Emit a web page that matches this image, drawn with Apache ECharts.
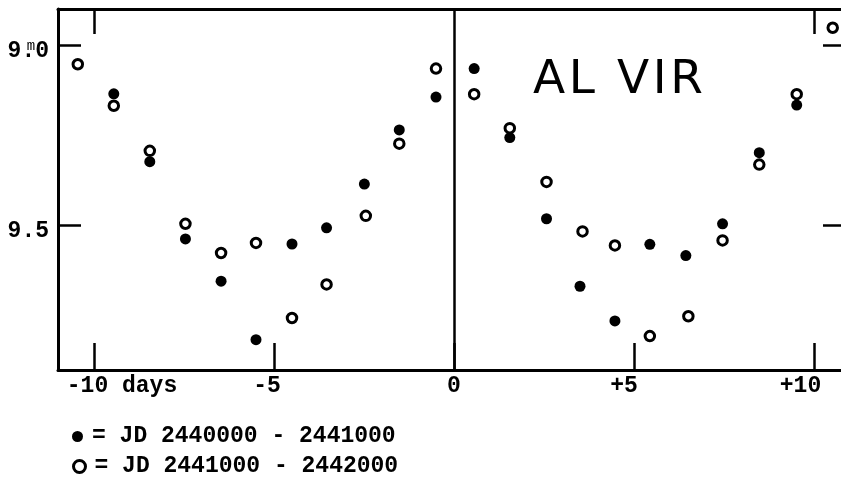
<!DOCTYPE html>
<html>
<head>
<meta charset="utf-8">
<script src="https://cdn.jsdelivr.net/npm/echarts@6/dist/echarts.min.js"></script>
<style>
html,body{margin:0;padding:0;background:#fff;overflow:hidden;}
#c{width:850px;height:482px;}
</style>
</head>
<body>
<div id="c"></div>
<script>
// ---- data ----
const xTicks = [-10, -5, 0, 5, 10];
const xTickLabels = ['-10 days', '-5', '0', '+5', '+10'];
const topTicks = [-10, 10];
const yTicks = [9.0, 9.5];
const yTickLabels = ['9.0', '9.5'];
const magUnit = 'm';
const starName = 'AL VIR';

const filledName = '= JD 2440000 - 2441000';
const filledDays = [-9.45, -8.45, -7.46, -6.47, -5.5, -4.5, -3.54, -2.49, -1.52, -0.5,
                    0.56, 1.55, 2.57, 3.5, 4.47, 5.44, 6.44, 7.46, 8.48, 9.52];
const filledMag  = [9.135, 9.323, 9.537, 9.654, 9.816, 9.551, 9.506, 9.385, 9.235, 9.144,
                    9.065, 9.256, 9.481, 9.668, 9.764, 9.552, 9.583, 9.495, 9.298, 9.166];

const openName = '= JD 2441000 - 2442000';
const openDays = [-10.45, -9.45, -8.45, -7.46, -6.47, -5.5, -4.5, -3.54, -2.45, -1.52, -0.5,
                  0.56, 1.55, 2.57, 3.57, 4.47, 5.44, 6.51, 7.46, 8.48, 9.52, 10.52];
const openMag  = [9.053, 9.168, 9.293, 9.495, 9.576, 9.548, 9.756, 9.663, 9.473, 9.273, 9.065,
                  9.136, 9.23, 9.379, 9.516, 9.555, 9.806, 9.751, 9.541, 9.331, 9.136, 8.952];

// ---- chart ----
const mono = '"Liberation Mono", "DejaVu Sans Mono", monospace';
const ink = '#000';
const chart = echarts.init(document.getElementById('c'), null, {renderer: 'canvas'});

const labelStyleKeys = ['l0', 'l1', 'l2', 'l3', 'l4'];
const baseTxt = {fontFamily: mono, fontSize: 23, fontWeight: 'bold', color: ink};
const legendTxt = {fontFamily: mono, fontSize: 23, fontWeight: 'bold', color: ink, padding: [0, 0, 0, 4]};

const option = {
  backgroundColor: '#fff',
  animation: false,
  grid: {left: 58, top: 9, right: 0, height: 361},
  graphic: [{
    type: 'text', left: 533, top: 57, silent: true,
    style: {
      text: starName.split('').map(ch => '{a|' + ch + '}').join(''),
      rich: {a: {fontFamily: '"DejaVu Sans"', fontSize: 47, color: ink, padding: [0, 1.8, 0, 1.8]}}
    }
  }],
  legend: [{
    orient: 'vertical', left: 67, top: 420, padding: 5,
    itemWidth: 11, itemHeight: 11,
    textStyle: legendTxt,
    data: [{name: filledName, icon: 'circle', itemStyle: {color: ink, borderWidth: 0, opacity: 1}}]
  }, {
    orient: 'vertical', left: 67, top: 450, padding: 5,
    itemWidth: 12, itemHeight: 12,
    textStyle: legendTxt,
    data: [{name: openName, icon: 'circle', itemStyle: {color: '#fff', borderColor: ink, borderWidth: 3, opacity: 1}}]
  }],
  xAxis: [{
    type: 'value', min: -11, max: 11, position: 'bottom',
    axisLine: {show: true, onZero: false, lineStyle: {color: ink, width: 3}},
    axisTick: {show: true, inside: true, length: 27, customValues: xTicks, lineStyle: {color: ink, width: 2.5}},
    splitLine: {show: false},
    axisLabel: {
      show: true, margin: 5, customValues: xTicks,
      formatter: function (v) {
        const i = xTicks.indexOf(v);
        return '{' + labelStyleKeys[i] + '|' + xTickLabels[i] + '}';
      },
      rich: {
        l0: Object.assign({padding: [0, 0, 0, 56]}, baseTxt),
        l1: Object.assign({padding: [0, 14, 0, 0]}, baseTxt),
        l2: Object.assign({}, baseTxt),
        l3: Object.assign({padding: [0, 20, 0, 0]}, baseTxt),
        l4: Object.assign({padding: [0, 27, 0, 0]}, baseTxt)
      }
    }
  }, {
    type: 'value', min: -11, max: 11, position: 'top',
    axisLine: {show: true, onZero: false, lineStyle: {color: ink, width: 3}},
    axisTick: {show: true, inside: true, length: 25, customValues: topTicks, lineStyle: {color: ink, width: 2.5}},
    axisLabel: {show: false},
    splitLine: {show: false}
  }],
  yAxis: [{
    type: 'value', inverse: true, min: 8.9, max: 9.9, position: 'left',
    axisLine: {show: true, onZero: false, lineStyle: {color: ink, width: 3}},
    axisTick: {show: true, inside: true, length: 23, customValues: yTicks, lineStyle: {color: ink, width: 2.5}},
    splitLine: {show: false},
    axisLabel: {
      show: true, margin: 9, customValues: yTicks, padding: [12, 0, 0, 0],
      formatter: function (v) {
        const i = yTicks.indexOf(v);
        const s = yTickLabels[i];
        if (i === 0) {
          return '{n|' + s.slice(0, 2) + '}{m|' + magUnit + '}{n|' + s.slice(2) + '}';
        }
        return '{n|' + s + '}';
      },
      rich: {
        n: Object.assign({}, baseTxt),
        m: {fontFamily: mono, fontSize: 14, color: ink, width: 0, align: 'right', verticalAlign: 'top'}
      }
    }
  }, {
    type: 'value', inverse: true, min: 8.9, max: 9.9, position: 'right',
    axisLine: {show: true, onZero: false, lineStyle: {color: ink, width: 3}},
    axisTick: {show: true, inside: true, length: 27, customValues: yTicks, lineStyle: {color: ink, width: 2.5}},
    axisLabel: {show: false},
    splitLine: {show: false}
  }],
  series: [{
    name: filledName, type: 'scatter', xAxisIndex: 0, yAxisIndex: 0,
    symbol: 'circle', symbolSize: 11,
    itemStyle: {color: ink, opacity: 1},
    data: filledDays.map((d, i) => [d, filledMag[i]]),
    markLine: {
      silent: true, symbol: 'none', label: {show: false},
      lineStyle: {color: ink, width: 2.5, type: 'solid', opacity: 1},
      data: [{xAxis: 0}]
    },
    z: 3
  }, {
    name: openName, type: 'scatter', xAxisIndex: 0, yAxisIndex: 0,
    symbol: 'circle', symbolSize: 9.5,
    itemStyle: {color: '#fff', borderColor: ink, borderWidth: 3, opacity: 1},
    data: openDays.map((d, i) => [d, openMag[i]]),
    z: 2
  }]
};
chart.setOption(option);
</script>
</body>
</html>
